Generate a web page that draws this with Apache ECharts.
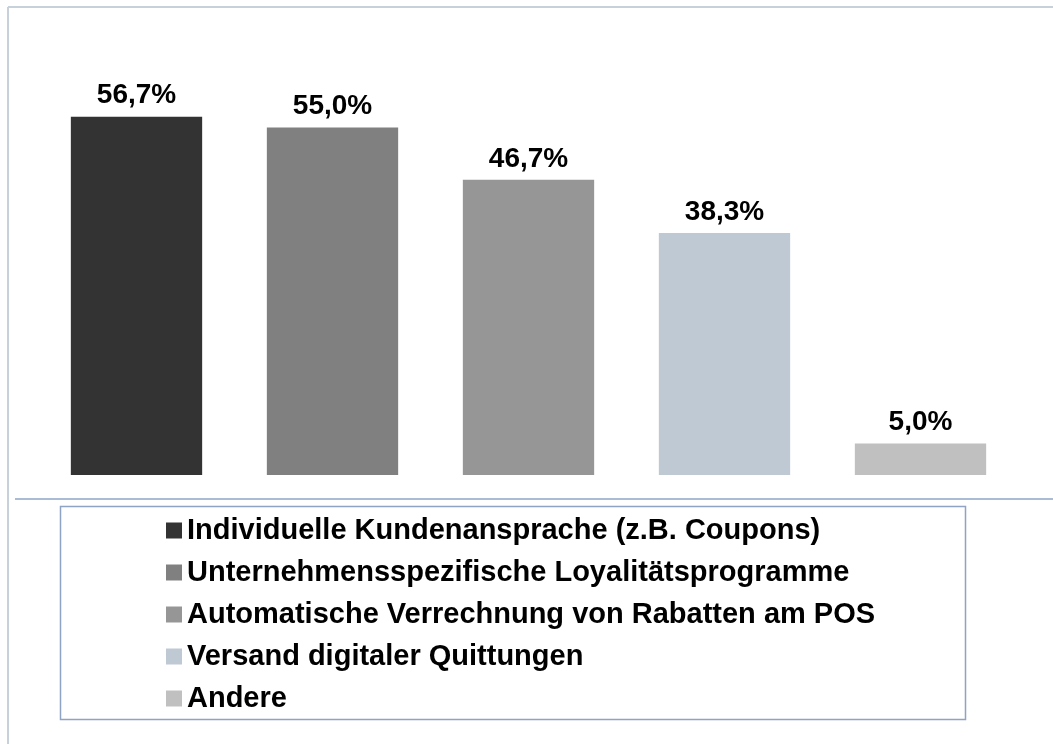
<!DOCTYPE html>
<html>
<head>
<meta charset="utf-8">
<script src="https://cdn.jsdelivr.net/npm/echarts@6/dist/echarts.min.js"></script>
<style>
  html, body { margin: 0; padding: 0; background: #fff; }
  #chart { width: 1053px; height: 744px; }
</style>
</head>
<body>
<div id="chart"></div>
<script>
// Kategorien und Werte (in %)
var categories = [
  'Individuelle Kundenansprache (z.B. Coupons)',
  'Unternehmensspezifische Loyalitätsprogramme',
  'Automatische Verrechnung von Rabatten am POS',
  'Versand digitaler Quittungen',
  'Andere'
];
var values = [56.7, 55.0, 46.7, 38.3, 5.0];
var colors = ['#333333', '#808080', '#969696', '#bfc9d4', '#c0c0c0'];

var chartDom = document.getElementById('chart');
var myChart = echarts.init(chartDom);
var font = '"Liberation Sans", Arial, sans-serif';

// eine Serie je Kategorie, damit die Legende jede Farbe zeigt
var series = categories.map(function (name, i) {
  var data = categories.map(function (c, j) { return j === i ? values[i] : '-'; });
  return {
    name: name,
    type: 'bar',
    stack: 'all',
    barCategoryGap: '33%',
    itemStyle: { color: colors[i] },
    label: {
      show: true,
      position: 'top',
      distance: 7,
      fontFamily: font,
      fontWeight: 'bold',
      fontSize: 28,
      color: '#000',
      formatter: function (p) { return p.value.toFixed(1).replace('.', ',') + '%'; }
    },
    data: data
  };
});

var option = {
  animation: false,
  grid: { left: 38.5, right: 34.5, top: 32.6, bottom: 269 },
  xAxis: {
    type: 'category',
    data: categories,
    axisLine: { show: false },
    axisTick: { show: false },
    axisLabel: { show: false }
  },
  yAxis: {
    type: 'value',
    min: 0,
    max: 70,
    show: false,
    splitLine: { show: false }
  },
  legend: {
    orient: 'vertical',
    left: 166,
    top: 516,
    padding: 0,
    icon: 'rect',
    itemWidth: 16,
    itemHeight: 16,
    itemGap: 13,
    textStyle: { fontFamily: font, fontWeight: 'bold', fontSize: 29, color: '#000' },
    data: categories
  },
  graphic: [
    { type: 'line', shape: { x1: 8, y1: 7, x2: 1053, y2: 7 }, style: { stroke: '#c8d0dc', lineWidth: 2 } },
    { type: 'line', shape: { x1: 8, y1: 7, x2: 8, y2: 744 }, style: { stroke: '#c8d0dc', lineWidth: 2 } },
    { type: 'line', shape: { x1: 15, y1: 499, x2: 1053, y2: 499 }, style: { stroke: '#8ea4c8', lineWidth: 1.5 } },
    { type: 'rect', shape: { x: 60.5, y: 506.5, width: 905, height: 213 }, style: { fill: 'none', stroke: '#8fa3c4', lineWidth: 1.5 } }
  ],
  series: series
};

option && myChart.setOption(option);
</script>
</body>
</html>
